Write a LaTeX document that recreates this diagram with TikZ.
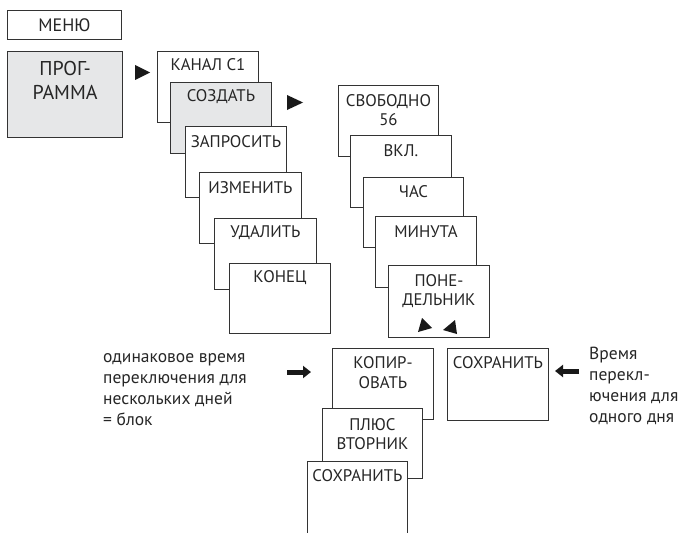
\documentclass[tikz,border=0pt]{standalone}
\usepackage{fontspec}
\setmainfont{PT Sans}
\usetikzlibrary{arrows.meta}
\definecolor{boxgray}{HTML}{E6E7E8}
\definecolor{linegray}{HTML}{333333}
\begin{document}
\begin{tikzpicture}[x=1pt,y=-1pt,
  box/.style={draw=linegray, line width=0.9pt, fill=white, anchor=north west, inner sep=0pt},
  gbox/.style={box, fill=boxgray},
  sz/.style 2 args={minimum width=#1pt, minimum height=#2pt},
  lbl/.style={font=\fontsize{16.8}{19.5}\selectfont, text=black!85, align=center, inner sep=0pt},
  biglbl/.style={font=\fontsize{20}{24}\selectfont, text=black!85, align=center, inner sep=0pt},
  note/.style={font=\fontsize{17.5}{21}\selectfont, text=black!85, align=left, anchor=north west, inner sep=0pt},
  tri/.style={fill=black!90},
  thick arrow/.style={line width=5pt, draw=black!90, -{Triangle[length=8pt, width=12pt]}}]
\useasboundingbox (0,0) rectangle (684,532);

% left column
\node[box, sz={114}{29}] (menu) at (7,10) {};
\node[lbl, font=\fontsize{18}{20}\selectfont] (menuT) at (menu.center) {МЕНЮ};
\node[gbox, sz={115}{86}, line width=1.2pt] (prog) at (7,51) {};
\node[biglbl] (progT) at ([yshift=-29pt]prog.north) {ПРОГ-\\РАММА};

% second column
\node[box, sz={101}{71}] (kanal) at (157,51) {};
\node[lbl] (kanalT) at ([yshift=-14pt]kanal.north) {КАНАЛ C1};
\node[gbox, sz={101}{71}] (sozd) at (170,82) {};
\node[lbl] (sozdT) at ([yshift=-15pt]sozd.north) {СОЗДАТЬ};
\node[box, sz={101}{71}] (zapr) at (185,126) {};
\node[lbl] (zaprT) at ([yshift=-16pt]zapr.north) {ЗАПРОСИТЬ};
\node[box, sz={102}{71}] (izm) at (199,172) {};
\node[lbl] (izmT) at ([yshift=-16pt]izm.north) {ИЗМЕНИТЬ};
\node[box, sz={102}{71}] (udal) at (214,218) {};
\node[lbl] (udalT) at ([yshift=-15pt]udal.north) {УДАЛИТЬ};
\node[box, sz={101}{70}] (konec) at (229,263) {};
\node[lbl] (konecT) at ([yshift=-15pt]konec.north) {КОНЕЦ};

% third column
\node[box, sz={100}{71}] (svob) at (338,85) {};
\node[lbl] (svobT) at ([yshift=-25pt]svob.north) {СВОБОДНО\\56};
\node[box, sz={101}{72}] (vkl) at (350,135) {};
\node[lbl] (vklT) at ([yshift=-16pt]vkl.north) {ВКЛ.};
\node[box, sz={100}{70}] (chas) at (363,177) {};
\node[lbl] (chasT) at ([yshift=-15pt]chas.north) {ЧАС};
\node[box, sz={101}{71}] (minu) at (375,216) {};
\node[lbl] (minuT) at ([yshift=-16pt]minu.north) {МИНУТА};
\node[box, sz={101}{72}] (pon) at (388,265) {};
\node[lbl] (ponT) at ([yshift=-26pt]pon.north) {ПОНЕ-\\ДЕЛЬНИК};

% bottom group
\node[box, sz={101}{71}] (kop) at (332,348) {};
\node[lbl] (kopT) at ([yshift=-24.5pt]kop.north) {КОПИР-\\ОВАТЬ};
\node[box, sz={100}{70}] (plus) at (322,408) {};
\node[lbl] (plusT) at ([yshift=-26pt]plus.north) {ПЛЮС\\ВТОРНИК};
\node[box, sz={100}{85}] (save1) at (307,461) {};
\node[lbl] (save1T) at ([yshift=-15pt]save1.north) {СОХРАНИТЬ};
\node[box, sz={101}{72}] (save2) at (447,348) {};
\node[lbl] (save2T) at ([yshift=-15pt]save2.north) {СОХРАНИТЬ};

% small triangles
\fill[tri] (135,65) -- (135,80) -- (150,72.5) -- cycle;
\fill[tri] (287,95) -- (287,110) -- (303,102.5) -- cycle;
\fill[tri] (418,332) -- (422,318) -- (432,328) -- cycle;
\fill[tri] (443,330) -- (455,320) -- (457,334) -- cycle;

% notes
\node[note] (noteL) at (103,353) {одинаковое время\\переключения для\\нескольких дней\\= блок};
\node[note] (noteR) at (589,347) {Время\\перекл-\\ючения для\\одного дня};

% thick arrows
\coordinate (aLs) at (287,372);
\coordinate (aLe) at (311,372);
\draw[thick arrow] (aLs) -- (aLe);
\coordinate (aRs) at (579,371);
\coordinate (aRe) at (555,371);
\draw[thick arrow] (aRs) -- (aRe);
\end{tikzpicture}
\end{document}
